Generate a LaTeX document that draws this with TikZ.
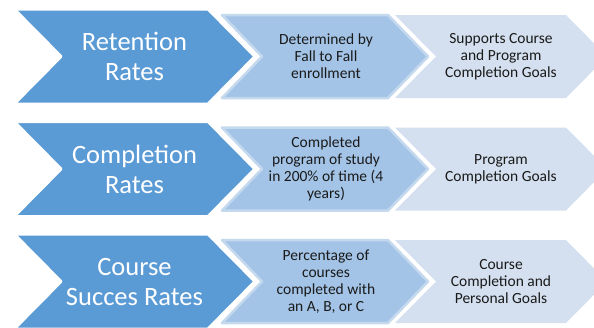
\documentclass[tikz,border=0pt]{standalone}
\usepackage{fontspec}
\setmainfont{Carlito}
\definecolor{bigc}{HTML}{5B9BD5}
\definecolor{midc}{HTML}{A3C4E7}
\definecolor{midb}{HTML}{C4D8EE}
\definecolor{lightc}{HTML}{D4E0EF}
\definecolor{txt}{HTML}{1A1A1A}
\begin{document}
\begin{tikzpicture}[x=1pt,y=-1pt,line join=round,
  bigtext/.style={text=white,font=\fontsize{26.5}{30}\selectfont,align=center},
  smalltext/.style={text=txt,font=\fontsize{15.5}{17}\selectfont,align=center},
  thirdshape/.style={fill=lightc},
  midshape/.style={fill=midc,draw=midb,line width=2.5},
  midgap/.style={draw=white,line width=7},
  bigshape/.style={fill=bigc,draw=white,line width=3}]
\useasboundingbox (0,0) rectangle (594,327);
\clip (0,0) rectangle (594,327);
\foreach \yc/\ta/\tb/\tc [count=\i] in {
  56.5/{Retention\\Rates}/{Determined by\\Fall to Fall\\enrollment}/{Supports Course\\and Program\\Completion Goals},
  169/{Completion\\Rates}/{Completed\\program of study\\in 200\% of time (4\\years)}/{Program\\Completion Goals},
  281.5/{Course\\Succes Rates}/{Percentage of\\courses\\completed with\\an A, B, or C}/{Course\\Completion and\\Personal Goals}}{
  % third chevron
  \path[thirdshape] (395,\yc-41.5) -- (566,\yc-41.5) -- (607,\yc) -- (566,\yc+41.5) -- (395,\yc+41.5) -- (436,\yc) -- cycle;
  % second chevron
  \path[midgap] (222,\yc-41.5) -- (388,\yc-41.5) -- (428,\yc) -- (388,\yc+41.5) -- (222,\yc+41.5) -- (262,\yc) -- cycle;
  \path[midshape] (222,\yc-41.5) -- (388,\yc-41.5) -- (428,\yc) -- (388,\yc+41.5) -- (222,\yc+41.5) -- (262,\yc) -- cycle;
  % big chevron
  \path[bigshape] (14,\yc-47.5) -- (208,\yc-47.5) -- (255,\yc) -- (208,\yc+47.5) -- (14,\yc+47.5) -- (61,\yc) -- cycle;
  \node[bigtext] (big\i) at (134.5,\yc) {\ta};
  \node[smalltext] (mid\i) at (326,\yc) {\tb};
  \node[smalltext] (light\i) at (501,\yc) {\tc};
}
\end{tikzpicture}
\end{document}
